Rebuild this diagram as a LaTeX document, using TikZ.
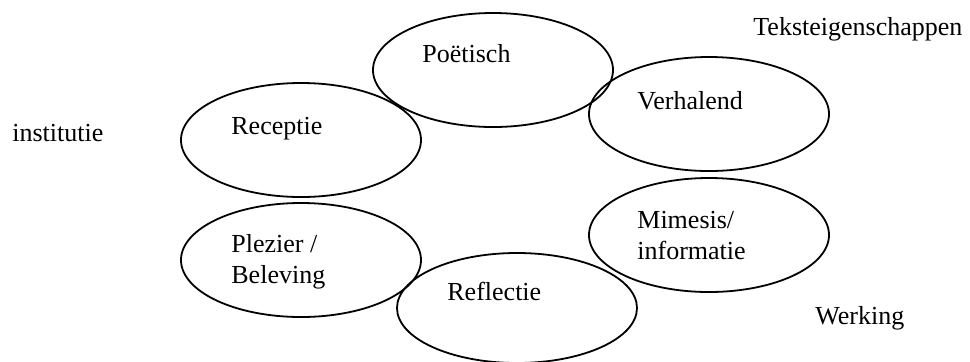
\documentclass[tikz,border=0pt]{standalone}
\usepackage{fontspec}
\setmainfont{Liberation Serif}
\usetikzlibrary{shapes.geometric}
\begin{document}
\begin{tikzpicture}[x=0.5pt,y=-0.5pt,
  bubble/.style={draw=black,line width=0.9pt,ellipse,inner sep=0pt,minimum width=120pt,minimum height=57pt},
  txt/.style={anchor=base west,inner sep=0pt,font=\fontsize{13pt}{15.5pt}\selectfont}]
\useasboundingbox (0,0) rectangle (970,361);
\node[bubble] (poet) at (493,70) {};
\node[bubble] (verh) at (709,114) {};
\node[bubble] (rece) at (301,140) {};
\node[bubble] (mime) at (709,235) {};
\node[bubble] (plez) at (301,260) {};
\node[bubble,minimum height=55pt] (refl) at (517,308) {};
\node[txt] (tpoet) at (422,62) {Poëtisch};
\node[txt] (tverh) at (637,109) {Verhalend};
\node[txt] (trece) at (231,134) {Receptie};
\node[txt] (tmime1) at (637,228) {Mimesis/};
\node[txt] (tmime2) at (637,259) {informatie};
\node[txt] (tplez1) at (231,252) {Plezier /};
\node[txt] (tplez2) at (231,283) {Beleving};
\node[txt] (trefl) at (447,300) {Reflectie};
\node[txt] (teks) at (753,35) {Teksteigenschappen};
\node[txt] (inst) at (12,141) {institutie};
\node[txt] (werk) at (815,324) {Werking};
\end{tikzpicture}
\end{document}
